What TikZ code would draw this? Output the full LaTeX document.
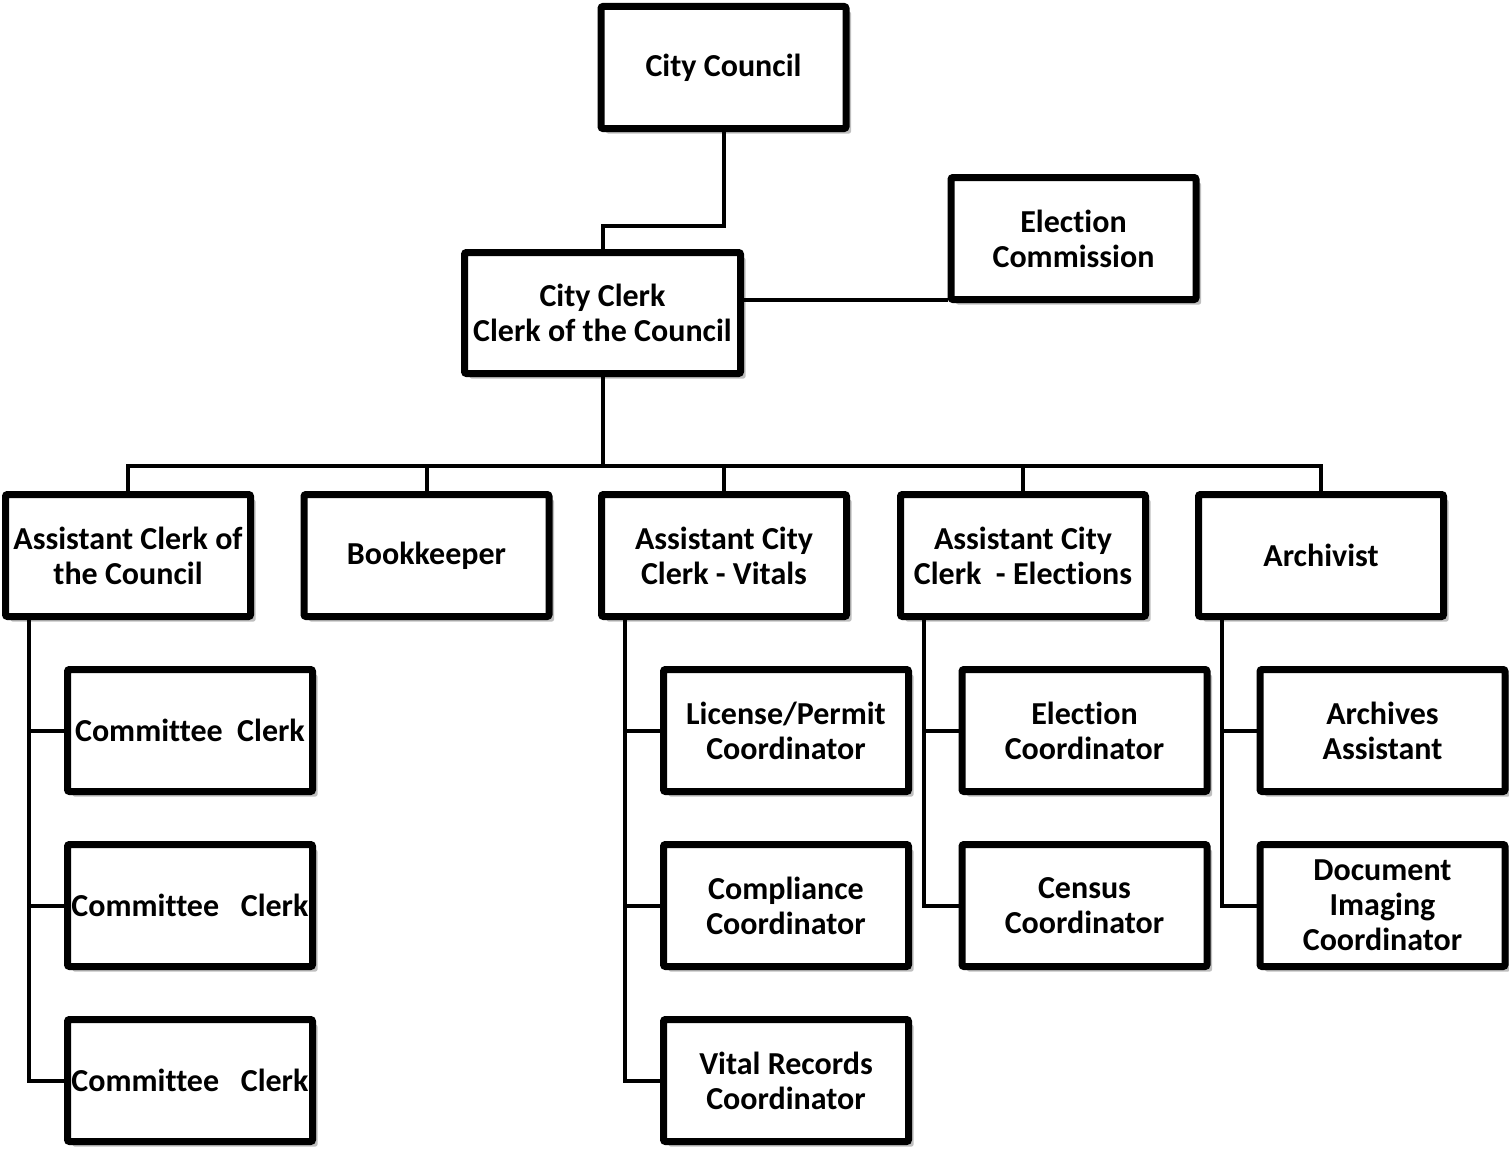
\documentclass[tikz,border=0pt]{standalone}
\usepackage{fontspec}
\setmainfont{Carlito}[Ligatures=NoCommon]
\usetikzlibrary{shadows,calc}
\begin{document}
\begin{tikzpicture}[x=1pt,y=-1pt,
  orgbox/.style={draw=black, line width=7pt, fill=white, rounded corners=2pt,
    minimum width=245pt, minimum height=122pt, align=center, inner sep=0pt,
    font=\fontsize{32}{35}\selectfont\bfseries,
    drop shadow={shadow xshift=5pt, shadow yshift=-5pt, fill=black, opacity=0.25}},
  link/.style={draw=black, line width=4pt}]
\useasboundingbox (0,0) rectangle (1509,1148);
% top
\node[orgbox] (cc) at (723.5,67.5) {City Council};
\node[orgbox] (ec) at (1073.5,238.5) {Election\\Commission};
\node[orgbox, minimum width=276pt, minimum height=121pt] (clerk) at (602.5,313) {City Clerk\\Clerk of the Council};
% row 2
\node[orgbox] (a1) at (128,555.5) {Assistant Clerk of\\the Council};
\node[orgbox] (a2) at (426.5,555.5) {Bookkeeper};
\node[orgbox] (a3) at (724,555.5) {Assistant City\\Clerk - Vitals};
\node[orgbox] (a4) at (1023,555.5) {Assistant City\\Clerk\ \ - Elections};
\node[orgbox] (a5) at (1321,555.5) {Archivist};
% row 3
\node[orgbox] (c1) at (190,730.5) {Committee\ \ Clerk};
\node[orgbox] (c2) at (190,905.5) {Committee\ \ \ Clerk};
\node[orgbox] (c3) at (190,1080.5) {Committee\ \ \ Clerk};
\node[orgbox] (v1) at (786,730.5) {License/Permit\\Coordinator};
\node[orgbox] (v2) at (786,905.5) {Compliance\\Coordinator};
\node[orgbox] (v3) at (786,1080.5) {Vital Records\\Coordinator};
\node[orgbox] (e1) at (1084.5,730.5) {Election\\Coordinator};
\node[orgbox] (e2) at (1084.5,905.5) {Census\\Coordinator};
\node[orgbox] (r1) at (1382.5,730.5) {Archives\\Assistant};
\node[orgbox] (r2) at (1382.5,905.5) {Document\\Imaging\\Coordinator};
% connectors
\coordinate (j1) at (0,226);
\coordinate (bus) at (0,466);
\coordinate (ecl) at (0,299.5);
\draw[link] (cc.south) -- (cc.south |- j1) -| (clerk.north);
\draw[link] (clerk.east |- ecl) -- (ec.west |- ecl);
\draw[link] (clerk.south) -- (clerk.south |- bus);
\draw[link] (a1.north) |- (a5.north |- bus) -- (a5.north);
\foreach \n in {a2,a3,a4} \draw[link] (\n.north) -- (\n.north |- bus);
\coordinate (s1) at ($(a1.south west)+(26.5,0)$);
\coordinate (s3) at ($(a3.south west)+(26.5,0)$);
\coordinate (s4) at ($(a4.south west)+(26.5,0)$);
\coordinate (s5) at ($(a5.south west)+(26.5,0)$);
\draw[link] (s1) |- (c3.west);
\draw[link] (s1 |- c1.west) -- (c1.west);
\draw[link] (s1 |- c2.west) -- (c2.west);
\draw[link] (s3) |- (v3.west);
\draw[link] (s3 |- v1.west) -- (v1.west);
\draw[link] (s3 |- v2.west) -- (v2.west);
\draw[link] (s4) |- (e2.west);
\draw[link] (s4 |- e1.west) -- (e1.west);
\draw[link] (s5) |- (r2.west);
\draw[link] (s5 |- r1.west) -- (r1.west);
\end{tikzpicture}
\end{document}
